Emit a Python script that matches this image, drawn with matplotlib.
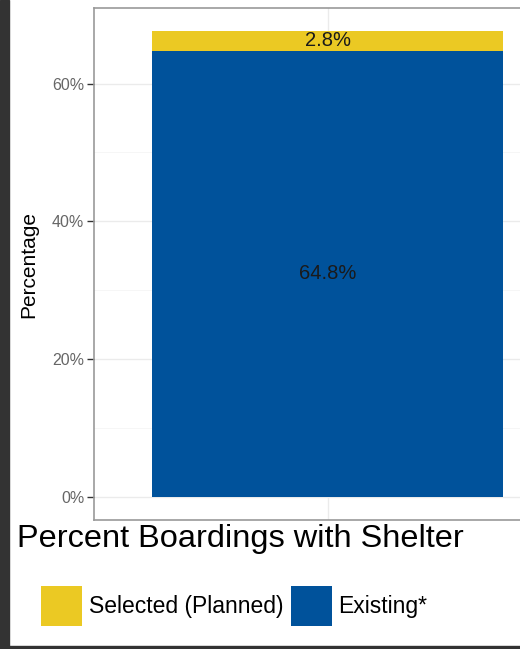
import matplotlib
matplotlib.use("Agg")
import matplotlib.pyplot as plt
from matplotlib.patches import Rectangle

plt.rcParams['font.family'] = ['Liberation Sans', 'DejaVu Sans']

categories = [""]
series_names = ["Selected (Planned)", "Existing*"]
existing = [64.8]
selected = [2.8]
y_ticks = [0, 20, 40, 60]
y_tick_labels = ["0%", "20%", "40%", "60%"]
title = "Percent Boardings with Shelter"
y_title = "Percentage"

col_sel = "#EBC923"
col_exi = "#00529B"

W, H = 520, 649
fig = plt.figure(figsize=(W / 100, H / 100), dpi=100)
fig.patch.set_facecolor("white")

# dark frame strips (screenshot edges)
fig.patches.append(Rectangle((0, 0), 9 / W, 1, transform=fig.transFigure, color="#333333", zorder=10))
fig.patches.append(Rectangle((0, 0), 1, 3 / H, transform=fig.transFigure, color="#333333", zorder=10))

left, right, top, bottom = 94, 561, 8, 520
ax = fig.add_axes([left / W, 1 - bottom / H, (right - left) / W, (bottom - top) / H])

x = list(range(len(categories)))
b_exi = ax.bar(x, existing, width=0.9, color=col_exi, zorder=3, label=series_names[1])
b_sel = ax.bar(x, selected, width=0.9, bottom=existing, color=col_sel, zorder=3, label=series_names[0])

for i in x:
    ax.text(i, existing[i] / 2, f"{existing[i]:.1f}%", ha="center", va="center",
            fontsize=14.5, color="#1a1a1a", zorder=4)
    ax.text(i, existing[i] + selected[i] / 2, f"{selected[i]:.1f}%", ha="center", va="center",
            fontsize=14.5, color="#1a1a1a", zorder=4)

ymax = existing[0] + selected[0]
ax.set_ylim(-0.05 * ymax, ymax * 1.05)
ax.set_xlim(-0.6, 0.6)
ax.set_yticks(y_ticks)
ax.set_yticklabels(y_tick_labels)
ax.set_yticks([10, 30, 50], minor=True)
ax.set_xticks(x)
ax.set_xticklabels(categories)
ax.tick_params(axis="y", which="major", length=5, width=1, color="#333333",
               labelsize=11.5, labelcolor="#666666", pad=2)
ax.tick_params(axis="y", which="minor", length=0)
ax.tick_params(axis="x", length=0)
ax.grid(True, which="major", color="#ebebeb", linewidth=1, zorder=0)
ax.grid(True, which="minor", axis="y", color="#f5f5f5", linewidth=0.6, zorder=0)
for s in ax.spines.values():
    s.set_color("#999999")
    s.set_linewidth(1.2)
ax.set_ylabel(y_title, fontsize=15, color="black")
ax.yaxis.set_label_coords(-0.12, 0.5)

fig.text(17 / W, 1 - 539 / H, title, fontsize=23.4, ha="left", va="center", color="black")

fig.legend(handles=[b_sel, b_exi], labels=series_names, loc="center left",
           bbox_to_anchor=(41 / W, 1 - 606 / H), ncol=2, frameon=False,
           fontsize=16.5, handlelength=1.8, handleheight=2.3, handletextpad=0.3,
           columnspacing=0.3, borderpad=0, borderaxespad=0)

fig.savefig("out.png", dpi=100)
